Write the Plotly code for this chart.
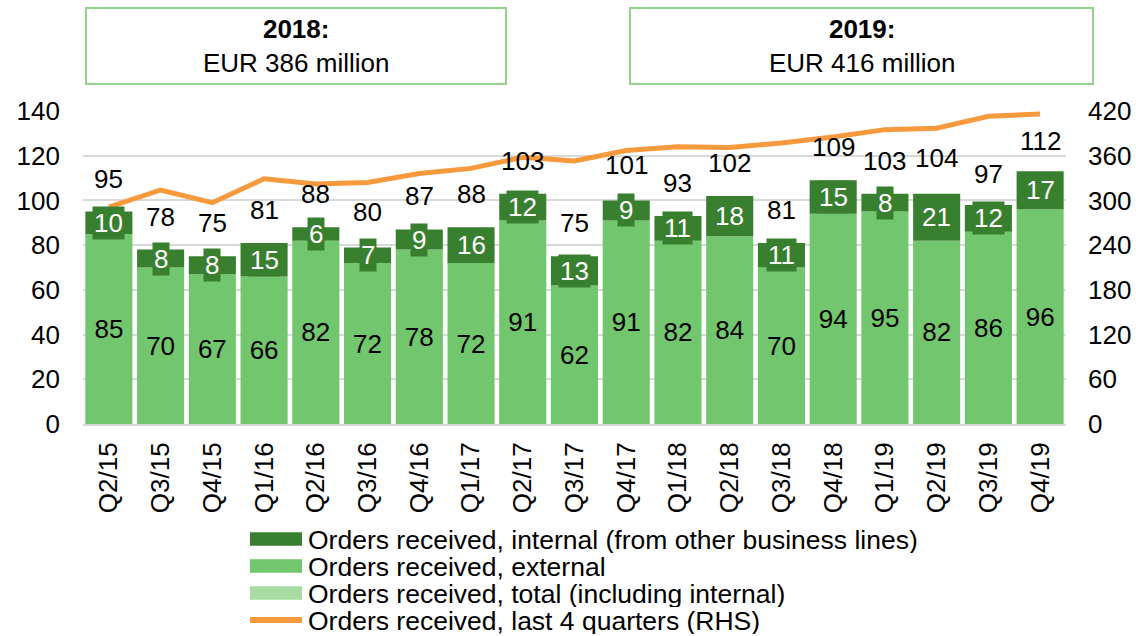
import plotly.graph_objects as go

quarters = ["Q2/15", "Q3/15", "Q4/15", "Q1/16", "Q2/16", "Q3/16", "Q4/16", "Q1/17",
            "Q2/17", "Q3/17", "Q4/17", "Q1/18", "Q2/18", "Q3/18", "Q4/18", "Q1/19",
            "Q2/19", "Q3/19", "Q4/19"]
external = [85, 70, 67, 66, 82, 72, 78, 72, 91, 62, 91, 82, 84, 70, 94, 95, 82, 86, 96]
internal = [10, 8, 8, 15, 6, 7, 9, 16, 12, 13, 9, 11, 18, 11, 15, 8, 21, 12, 17]
total = [95, 78, 75, 81, 88, 80, 87, 88, 103, 75, 101, 93, 102, 81, 109, 103, 104, 97, 112]
last4q = [291, 314, 297, 329, 322, 324, 336, 343, 358, 353, 367, 372, 371, 377, 385, 395, 397, 413, 416]

legend_names = ["Orders received, internal (from other business lines)",
                "Orders received, external",
                "Orders received, total (including internal)",
                "Orders received, last 4 quarters (RHS)"]
header_titles = ["2018:", "2019:"]
header_values = ["EUR 386 million", "EUR 416 million"]

C_INT = "#38802F"
C_EXT = "#72C66D"
C_TOT = "#A9DCA3"
C_LINE = "#F79A3E"
C_GRID = "#D9D9D9"
FONT = "Liberation Sans, Arial, sans-serif"
FS = 26

W, H = 1136, 636
ML, MR, MT, MB = 83, 70, 111, 212
PW, PH = W - ML - MR, H - MT - MB


def px_x(p):
    return (p - ML) / PW


def px_y(p):
    return (H - MB - p) / PH


fig = go.Figure()

fig.add_trace(go.Bar(
    x=quarters, y=external, name=legend_names[1],
    marker=dict(color=C_EXT, line=dict(width=0)),
    text=[str(v) for v in external], textposition="inside", insidetextanchor="middle",
    textfont=dict(color="black", size=FS, family=FONT), textangle=0,
    showlegend=False, hoverinfo="skip"))
fig.add_trace(go.Bar(
    x=quarters, y=internal, base=external, name=legend_names[0],
    marker=dict(color=C_INT, line=dict(width=0)),
    showlegend=False, hoverinfo="skip"))
fig.add_trace(go.Scatter(
    x=quarters, y=last4q, yaxis="y2", mode="lines", name=legend_names[3],
    line=dict(color=C_LINE, width=5), showlegend=False, hoverinfo="skip"))

annotations = []
shapes = []

# internal labels with dark-green boxes
for q, e, i in zip(quarters, external, internal):
    annotations.append(dict(x=q, y=e + i / 2, xref="x", yref="y", text=str(i),
                            showarrow=False, font=dict(color="white", size=FS, family=FONT),
                            bgcolor=C_INT, borderpad=1))
# total labels above bars
for q, t in zip(quarters, total):
    annotations.append(dict(x=q, y=t, xref="x", yref="y", text=str(t), showarrow=False,
                            yanchor="middle", yshift=33,
                            font=dict(color="black", size=FS, family=FONT)))

# header boxes
for (x0, x1), title, sub in zip([(86, 506), (630, 1093)], header_titles, header_values):
    shapes.append(dict(type="rect", xref="paper", yref="paper",
                       x0=px_x(x0), x1=px_x(x1), y0=px_y(84), y1=px_y(8),
                       line=dict(color="#92D48C", width=2), fillcolor="rgba(0,0,0,0)"))
    annotations.append(dict(x=px_x((x0 + x1) / 2), y=px_y(46), xref="paper", yref="paper",
                            xanchor="center", yanchor="middle",
                            text=f"<b>{title}</b><br>{sub}", showarrow=False,
                            font=dict(color="black", size=FS, family=FONT), align="center"))

# custom legend (tight Excel-like rows)
leg_cols = [C_INT, C_EXT, C_TOT, C_LINE]
leg_rows = [539, 566, 593, 620]
for name, col, yc in zip(legend_names, leg_cols, leg_rows):
    if col == C_LINE:
        shapes.append(dict(type="line", xref="paper", yref="paper",
                           x0=px_x(250), x1=px_x(302), y0=px_y(yc), y1=px_y(yc),
                           line=dict(color=col, width=6)))
    else:
        shapes.append(dict(type="rect", xref="paper", yref="paper",
                           x0=px_x(250), x1=px_x(302), y0=px_y(yc + 6.7), y1=px_y(yc - 6.7),
                           line=dict(width=0), fillcolor=col))
    annotations.append(dict(x=px_x(306), y=px_y(yc), xref="paper", yref="paper",
                            xanchor="left", yanchor="middle", text=name, showarrow=False,
                            height=27, valign="middle",
                            font=dict(color="black", size=26.5, family=FONT)))

fig.update_layout(
    width=W, height=H,
    margin=dict(l=ML, r=MR, t=MT, b=MB, autoexpand=False),
    paper_bgcolor="white", plot_bgcolor="white",
    barmode="overlay", bargap=0.09,
    showlegend=False,
    font=dict(family=FONT, color="black", size=FS),
    xaxis=dict(type="category", tickangle=-90, showgrid=False, showline=True,
               linecolor=C_GRID, linewidth=2, tickfont=dict(size=FS),
               ticks="", ticklabelstandoff=6, automargin=False),
    yaxis=dict(range=[0, 140], dtick=20, showgrid=True, gridcolor=C_GRID, gridwidth=2,
               zeroline=False, ticks="", ticklabelstandoff=22, tickfont=dict(size=FS),
               automargin=False),
    yaxis2=dict(range=[0, 420], dtick=60, overlaying="y", side="right", showgrid=False,
                zeroline=False, ticks="", ticklabelstandoff=21, tickfont=dict(size=FS),
                automargin=False),
    annotations=annotations, shapes=shapes,
)

fig.write_html("out.html", config={"displayModeBar": False},
               post_script="document.body.style.margin='0';document.body.style.overflow='hidden';")
